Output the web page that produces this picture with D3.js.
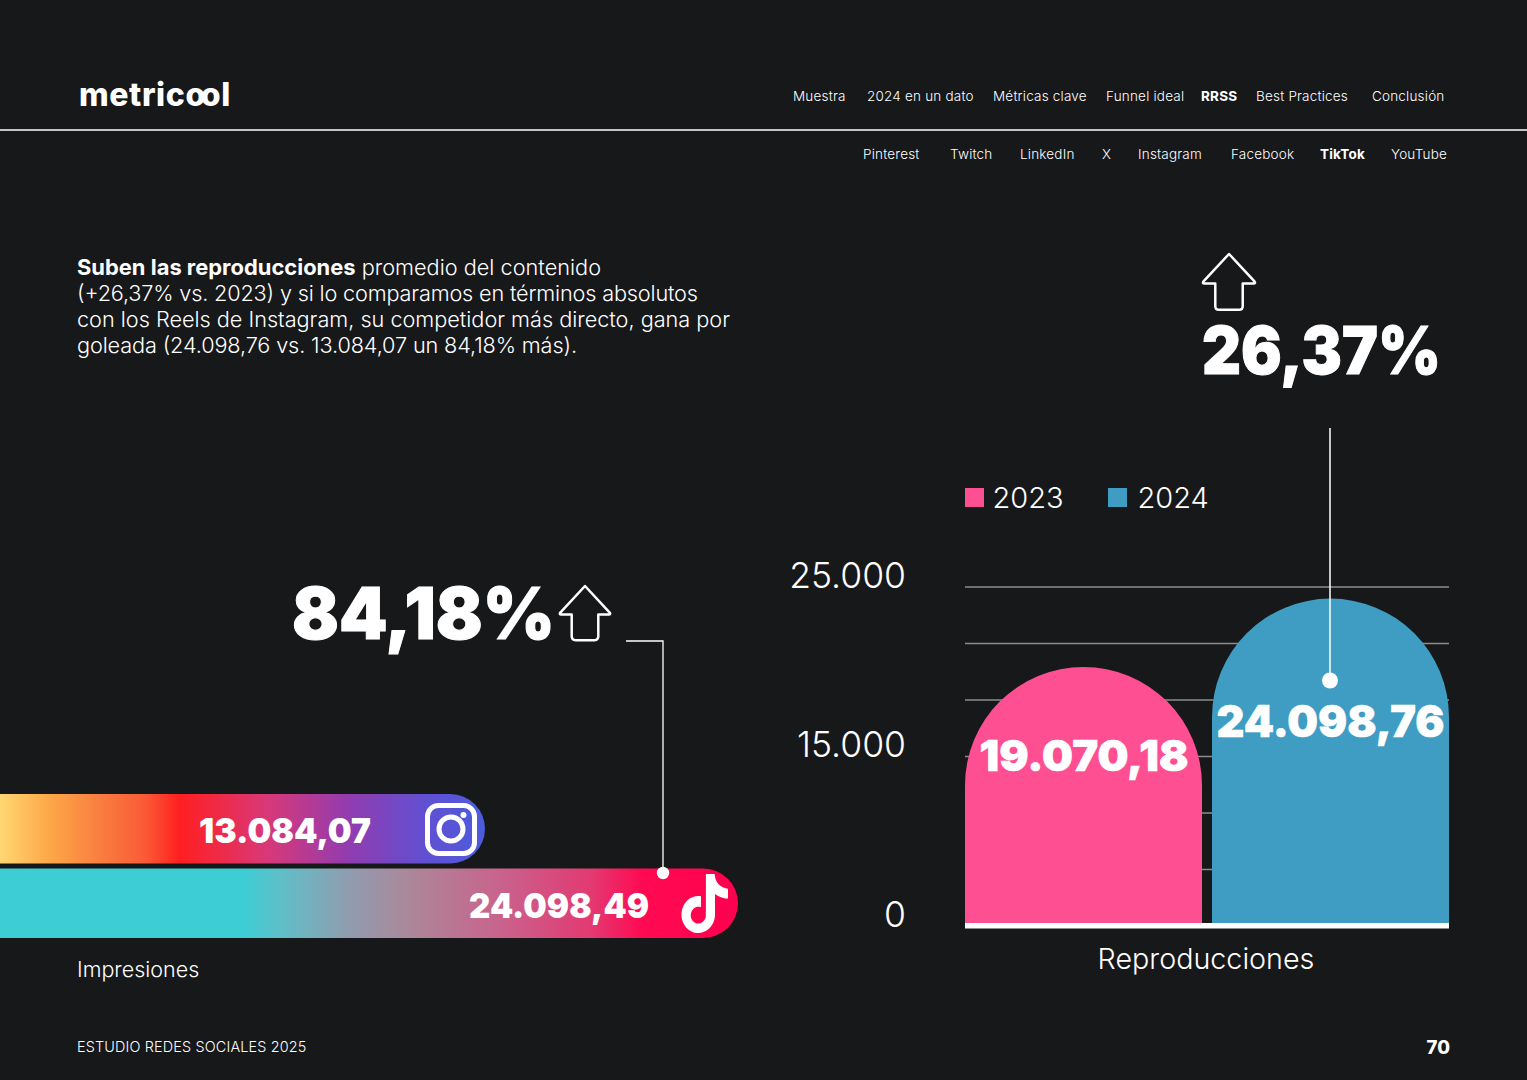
<!DOCTYPE html>
<html>
<head>
<meta charset="utf-8">
<script src="https://cdn.jsdelivr.net/npm/d3@7"></script>
<style>
  html, body { margin: 0; padding: 0; background: #17181a; }
  svg { display: block; }
  text { font-family: Inter, "Noto Sans", sans-serif; fill: #fff; }
</style>
</head>
<body>
<svg id="page" width="1527" height="1080"></svg>
<script>
// data
const years = ["2023", "2024"];
const reproValues = [19070.18, 24098.76];
const reproColors = ["#ff4f93", "#3f9cc2"];
const gridValues = [0, 4166.67, 8333.33, 12500, 16666.67, 20833.33, 25000];
const axisValues = [0, 12500, 25000];
const axisLabels = ["0", "15.000", "25.000"]; // as printed in the report
const networks = ["Instagram", "TikTok"];
const impressions = [13084.07, 24098.49];
const navTop = ["Muestra", "2024 en un dato", "Métricas clave", "Funnel ideal", "RRSS", "Best Practices", "Conclusión"];
const navTopX = [793, 867, 993, 1106, 1201, 1256, 1372];
const navSub = ["Pinterest", "Twitch", "LinkedIn", "X", "Instagram", "Facebook", "TikTok", "YouTube"];
const navSubX = [863, 950, 1020, 1102, 1138, 1231, 1320, 1391];
const introLines = [
  [["Suben las reproducciones", 700, 21.9], [" promedio del contenido", 300, 21.7]],
  [["(+26,37% vs. 2023) y si lo comparamos en términos absolutos", 300, 21.7]],
  [["con los Reels de Instagram, su competidor más directo, gana por", 300, 21.7]],
  [["goleada (24.098,76 vs. 13.084,07 un 84,18% más).", 300, 21.7]]
];
const introWidths = [524, 621, 653, 500];

const svg = d3.select("#page");
const defs = svg.append("defs");
const esLocale = d3.formatLocale({decimal: ",", thousands: ".", grouping: [3], currency: ["", ""]});
const fmt = esLocale.format(",.2f");

svg.append("rect").attr("width", 1527).attr("height", 1080).attr("fill", "#17181a");

// header
svg.append("text").attr("x", 79).attr("y", 106)
  .attr("font-size", 32).attr("font-weight", 800).attr("letter-spacing", 0.6)
  .attr("dx", "0 0 0 0 0 0 0 -5 0")
  .text("metricool");

svg.append("line").attr("x1", 0).attr("x2", 1527).attr("y1", 130).attr("y2", 130)
  .attr("stroke", "#fff").attr("stroke-width", 1.5);

svg.selectAll(".navTop").data(navTop).enter().append("text")
  .attr("class", "navTop")
  .attr("x", (d, i) => navTopX[i]).attr("y", 101)
  .attr("font-size", 13.5).attr("letter-spacing", 0.2)
  .attr("font-weight", d => d == "RRSS" ? 700 : 300)
  .text(d => d);

svg.selectAll(".navSub").data(navSub).enter().append("text")
  .attr("class", "navSub")
  .attr("x", (d, i) => navSubX[i]).attr("y", 159)
  .attr("font-size", 13.5).attr("letter-spacing", 0.2)
  .attr("font-weight", d => d == "TikTok" ? 700 : 300)
  .text(d => d);

// intro text
introLines.forEach((line, i) => {
  const t = svg.append("text").attr("x", 77).attr("y", 275 + i * 26.1)
    .attr("textLength", introWidths[i]).attr("lengthAdjust", "spacing");
  line.forEach(p => t.append("tspan").attr("font-weight", p[1]).attr("font-size", p[2]).text(p[0]));
});

// arrows
function upArrow(x, y, k) {
  // x,y = tip of the arrow
  const g = svg.append("g").attr("transform", "translate(" + x + "," + y + ") scale(" + k + ")");
  g.append("path")
    .attr("d", "M0,0 L26,28 Q27.5,30 25,30 L14,30 L14,53 Q14,57 10,57 L-10,57 Q-14,57 -14,53 L-14,30 L-25,30 Q-27.5,30 -26,28 Z")
    .attr("fill", "none").attr("stroke", "#fff").attr("stroke-width", 2.5 / k).attr("stroke-linejoin", "round");
}
upArrow(1229, 254, 0.98);
upArrow(585, 586, 0.95);

svg.append("text").attr("x", 1202).attr("y", 374)
  .attr("font-size", 66).attr("font-weight", 900).attr("stroke", "#fff").attr("stroke-width", 1)
  .attr("textLength", 239).attr("lengthAdjust", "spacingAndGlyphs").text("26,37%");
svg.append("text").attr("x", 292).attr("y", 639)
  .attr("font-size", 72).attr("font-weight", 900).attr("stroke", "#fff").attr("stroke-width", 1)
  .attr("textLength", 263).attr("lengthAdjust", "spacingAndGlyphs").text("84,18%");

// column chart
const xBar = d3.scaleBand().domain(years).range([965, 1449]).paddingInner(10 / 247).paddingOuter(0);
const yBar = d3.scaleLinear().domain([0, 25000]).range([925.5, 586.5]);

const grid = svg.append("g").attr("transform", "translate(965,0)")
  .call(d3.axisRight(yBar).tickValues(gridValues).tickSize(484).tickFormat(""));
grid.select(".domain").remove();
grid.selectAll("line").attr("stroke", "#8c8c8c").attr("stroke-width", 1.6);

const axisY = svg.append("g").attr("transform", "translate(906,0)")
  .call(d3.axisLeft(yBar).tickValues(axisValues).tickSize(0).tickPadding(0)
    .tickFormat((d, i) => axisLabels[i]));
axisY.select(".domain").remove();
axisY.selectAll("text")
  .attr("font-family", "Inter").attr("font-size", 35.5).attr("font-weight", 300)
  .attr("fill", "#fff").attr("dy", "0.32em")
  .attr("transform", "translate(0,-10.5)");

function archPath(x0, x1, top, bottom) {
  const r = (x1 - x0) / 2;
  const p = d3.path();
  p.moveTo(x0, bottom);
  p.lineTo(x0, top + r);
  p.arc(x0 + r, top + r, r, Math.PI, 2 * Math.PI);
  p.lineTo(x1, bottom);
  p.closePath();
  return p.toString();
}

svg.selectAll(".arch").data(years).enter().append("path")
  .attr("class", "arch")
  .attr("d", (d, i) => archPath(xBar(d), xBar(d) + xBar.bandwidth(), yBar(reproValues[i]), yBar(0)))
  .attr("fill", (d, i) => reproColors[i]);

svg.append("rect").attr("x", 965).attr("width", 484).attr("y", 923).attr("height", 5.5).attr("fill", "#fff");

const archLabelDrop = [104.5, 138];
const archLabelWidth = [209, 228];
const archLabelSize = [43, 44];
svg.selectAll(".archLabel").data(years).enter().append("text")
  .attr("class", "archLabel")
  .attr("x", (d, i) => xBar(d) + xBar.bandwidth() / 2 - archLabelWidth[i] / 2 + (i ? 0 : 0.5))
  .attr("y", (d, i) => yBar(reproValues[i]) + archLabelDrop[i])
  .attr("font-size", (d, i) => archLabelSize[i]).attr("font-weight", 900)
  .attr("stroke", "#fff").attr("stroke-width", 0.6)
  .attr("textLength", (d, i) => archLabelWidth[i]).attr("lengthAdjust", "spacingAndGlyphs")
  .text((d, i) => fmt(reproValues[i]));

// legend
const legendX = [965, 1108];
svg.selectAll(".legSwatch").data(years).enter().append("rect")
  .attr("class", "legSwatch")
  .attr("x", (d, i) => legendX[i]).attr("y", 488).attr("width", 19).attr("height", 19)
  .attr("fill", (d, i) => reproColors[i]);
svg.selectAll(".legText").data(years).enter().append("text")
  .attr("class", "legText")
  .attr("x", (d, i) => legendX[i] + (i ? 29.5 : 27.5)).attr("y", 507.5)
  .attr("font-size", 29).attr("font-weight", 300)
  .text(d => d);

svg.append("text").attr("x", 1206).attr("y", 968.5).attr("text-anchor", "middle")
  .attr("font-size", 28.7).attr("font-weight", 300).text("Reproducciones");

// callout of the column chart
svg.append("line").attr("x1", 1330).attr("x2", 1330).attr("y1", 428).attr("y2", 680)
  .attr("stroke", "#fff").attr("stroke-width", 1.5);
svg.append("circle").attr("cx", 1330).attr("cy", 680.5).attr("r", 8).attr("fill", "#fff");

// horizontal bars, cut by the left edge of the page
const xImp = d3.scaleLinear().domain([0, impressions[1]]).range([184.4, 738]);
const yImp = d3.scaleBand().domain(networks).range([794, 938]).paddingInner(5 / 72).paddingOuter(0);

const gradStops = [
  [[0, "#ffd772"], [0.1, "#fda848"], [0.2, "#f98040"], [0.3, "#fa5a36"], [0.37, "#ff1f20"], [0.55, "#d93878"], [0.72, "#913cb0"], [0.88, "#6050d2"], [1, "#4c5cdc"]],
  [[0, "#3dcdd4"], [0.33, "#3dcdd4"], [0.38, "#5fbfc8"], [0.47, "#8f9db0"], [0.56, "#ad8698"], [0.68, "#c9628c"], [0.8, "#e23a72"], [0.87, "#ff0a52"], [1, "#ff004e"]]
];
networks.forEach((n, i) => {
  const g = defs.append("linearGradient").attr("id", "grad" + n)
    .attr("gradientUnits", "userSpaceOnUse")
    .attr("x1", 0).attr("x2", xImp(impressions[i])).attr("y1", 0).attr("y2", 0);
  g.selectAll("stop").data(gradStops[i]).enter().append("stop")
    .attr("offset", d => d[0]).attr("stop-color", d => d[1]);
});

function pillPath(x1, top, bottom) {
  const r = (bottom - top) / 2;
  const p = d3.path();
  p.moveTo(0, top);
  p.lineTo(x1 - r, top);
  p.arc(x1 - r, top + r, r, -Math.PI / 2, Math.PI / 2);
  p.lineTo(0, bottom);
  p.closePath();
  return p.toString();
}

svg.selectAll(".pill").data(networks).enter().append("path")
  .attr("class", "pill")
  .attr("d", (d, i) => pillPath(xImp(impressions[i]), yImp(d), yImp(d) + yImp.bandwidth()))
  .attr("fill", d => "url(#grad" + d + ")");

const impLabelX = [199, 469];
const impLabelWidth = [172, 180];
svg.selectAll(".pillLabel").data(networks).enter().append("text")
  .attr("class", "pillLabel")
  .attr("x", (d, i) => impLabelX[i])
  .attr("y", d => yImp(d) + 49)
  .attr("font-size", 34).attr("font-weight", 900)
  .attr("textLength", (d, i) => impLabelWidth[i]).attr("lengthAdjust", "spacingAndGlyphs")
  .text((d, i) => fmt(impressions[i]));

// instagram icon
const ig = svg.append("g");
ig.append("rect").attr("x", 427.5).attr("y", 805.5).attr("width", 47).attr("height", 48).attr("rx", 11)
  .attr("fill", "none").attr("stroke", "#fff").attr("stroke-width", 5);
ig.append("circle").attr("cx", 451).attr("cy", 829).attr("r", 12).attr("fill", "none").attr("stroke", "#fff").attr("stroke-width", 5);
ig.append("circle").attr("cx", 463.5).attr("cy", 815).attr("r", 3).attr("fill", "#fff");

// tiktok icon
svg.append("path")
  .attr("transform", "translate(678,874) scale(2.23,2.46)")
  .attr("fill", "#fff")
  .attr("d", "M12.525.02c1.31-.02 2.61-.01 3.91-.02.08 1.53.63 3.09 1.75 4.17 1.12 1.11 2.7 1.62 4.24 1.79v4.03c-1.44-.05-2.89-.35-4.2-.97-.57-.26-1.1-.59-1.62-.93-.01 2.92.01 5.84-.02 8.75-.08 1.4-.54 2.79-1.35 3.94-1.31 1.92-3.58 3.17-5.91 3.21-1.43.08-2.86-.31-4.08-1.03-2.02-1.19-3.44-3.37-3.65-5.71-.02-.5-.03-1-.01-1.49.18-1.9 1.12-3.72 2.58-4.96 1.66-1.44 3.98-2.13 6.15-1.72.02 1.48-.04 2.96-.04 4.44-.99-.32-2.15-.23-3.02.37-.63.41-1.11 1.04-1.36 1.75-.21.51-.15 1.07-.14 1.61.24 1.64 1.82 3.02 3.5 2.87 1.12-.01 2.19-.66 2.77-1.61.19-.33.4-.67.41-1.06.1-1.79.06-3.57.07-5.36.01-4.03-.01-8.05.02-12.07z");

// callout of the horizontal bars
svg.append("path").attr("d", "M626,641 H663 V873").attr("fill", "none").attr("stroke", "#fff").attr("stroke-width", 1.3);
svg.append("circle").attr("cx", 663).attr("cy", 873).attr("r", 6.2).attr("fill", "#fff");

svg.append("text").attr("x", 77).attr("y", 977).attr("font-size", 21.5).attr("font-weight", 300).text("Impresiones");

// footer
svg.append("text").attr("x", 77).attr("y", 1052).attr("font-size", 14.4).attr("font-weight", 300).attr("letter-spacing", 0.16)
  .text("ESTUDIO REDES SOCIALES 2025");
svg.append("text").attr("x", 1450).attr("y", 1054).attr("text-anchor", "end").attr("font-size", 18.5).attr("font-weight", 800).text("70");
</script>
</body>
</html>
